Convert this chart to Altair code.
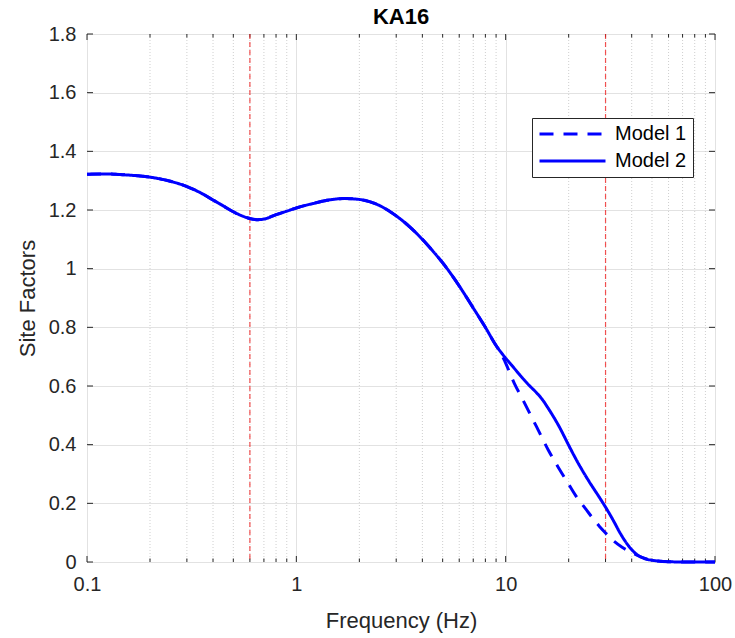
import altair as alt
import pandas as pd

# ---------------- data ----------------
models = ["Model 1", "Model 2"]

# part of the curves shared by both models (below ~9 Hz)
freq_common = [0.1, 0.12, 0.15, 0.2, 0.25, 0.3, 0.35, 0.4, 0.45, 0.5, 0.55, 0.6,
               0.65, 0.7, 0.8, 0.9, 1.0, 1.2, 1.4, 1.7, 2.0, 2.5, 3.0, 3.5, 4.0,
               4.5, 5.0, 6.0, 7.0, 8.0, 9.0]
sf_common = [1.322, 1.323, 1.320, 1.312, 1.298, 1.280, 1.258, 1.234, 1.213, 1.194,
             1.180, 1.171, 1.167, 1.169, 1.184, 1.196, 1.207, 1.222, 1.233, 1.239,
             1.236, 1.215, 1.180, 1.141, 1.100, 1.059, 1.020, 0.941, 0.866, 0.800,
             0.738]

freq_m1_tail = [9.5, 10, 11, 12, 14, 16, 18, 20, 22, 24, 26, 28, 30, 33, 36, 40, 45,
                50, 60, 70, 80, 100]
sf_m1_tail = [0.712, 0.678, 0.609, 0.557, 0.463, 0.381, 0.318, 0.265, 0.218, 0.183,
              0.150, 0.122, 0.099, 0.070, 0.050, 0.032, 0.015, 0.006, 0.001, 0.0,
              0.0, 0.0]

freq_m2_tail = [9.5, 10, 11, 12, 13, 14, 15, 16, 18, 20, 22, 25, 28, 30, 33, 35, 38,
                40, 43, 45, 48, 50, 60, 70, 80, 100]
sf_m2_tail = [0.715, 0.695, 0.660, 0.628, 0.601, 0.578, 0.553, 0.523, 0.462, 0.398,
              0.342, 0.275, 0.221, 0.187, 0.136, 0.102, 0.062, 0.042, 0.022, 0.015,
              0.008, 0.006, 0.001, 0.0, 0.0, 0.0]

ref_freqs = [0.6, 30]                       # red dashed reference lines
x_tick_values = [0.1, 1, 10, 100]
x_minor_values = [0.2, 0.3, 0.4, 0.5, 0.6, 0.7, 0.8, 0.9,
                  2, 3, 4, 5, 6, 7, 8, 9,
                  20, 30, 40, 50, 60, 70, 80, 90]
y_tick_values = [0, 0.2, 0.4, 0.6, 0.8, 1.0, 1.2, 1.4, 1.6, 1.8]

# ---------------- tables ----------------
rows = []
for f, v in zip(freq_common + freq_m1_tail, sf_common + sf_m1_tail):
    rows.append({"freq": f, "sf": v, "model": models[0]})
for f, v in zip(freq_common + freq_m2_tail, sf_common + sf_m2_tail):
    rows.append({"freq": f, "sf": v, "model": models[1]})
lines_df = pd.DataFrame(rows)
minor_df = pd.DataFrame({"freq": x_minor_values})
major_df = pd.DataFrame({"freq": x_tick_values})
ref_df = pd.DataFrame({"freq": ref_freqs})
ytick_df = pd.DataFrame({"sf": y_tick_values})

W, H = 628, 528
AX = "#262626"
FONT = "Liberation Sans"

xscale = alt.Scale(type="log", domain=[0.1, 100], nice=False)
yscale = alt.Scale(domain=[0, 1.8], nice=False, zero=False)

legend = alt.Legend(
    title=None, orient="none", legendX=445, legendY=84,
    strokeColor=AX, fillColor="white", padding=6,
    symbolType="stroke", symbolSize=4356, symbolStrokeWidth=3,
    labelFontSize=20, labelFont=FONT, labelColor="#000000", labelOffset=8,
    clipHeight=20, rowPadding=7,
)

lines = alt.Chart(lines_df).mark_line(strokeWidth=3, interpolate="monotone").encode(
    x=alt.X("freq:Q", scale=xscale, title="Frequency (Hz)",
            axis=alt.Axis(values=x_tick_values, format=".1~f", grid=True,
                          gridColor="#e2e2e2", ticks=False, domain=False,
                          labelFlush=False,
                          labelPadding=12, labelFontSize=20, labelColor=AX,
                          titleFontSize=22, titleFontWeight="normal", titleColor=AX,
                          titleBaseline="middle", titleY=58)),
    y=alt.Y("sf:Q", scale=yscale, title="Site Factors",
            axis=alt.Axis(values=y_tick_values, format="~g", grid=True,
                          gridColor="#e2e2e2", ticks=False, domain=False,
                          labelFlush=False,
                          labelPadding=11, labelFontSize=20, labelColor=AX,
                          titleFontSize=22, titleFontWeight="normal", titleColor=AX,
                          titleBaseline="middle", titleX=-60, titleY=H / 2)),
    color=alt.Color("model:N", scale=alt.Scale(domain=models, range=["#0000ff", "#0000ff"]),
                    legend=legend),
    strokeDash=alt.StrokeDash("model:N", scale=alt.Scale(domain=models, range=[[14, 10], [1, 0]]),
                              legend=legend),
)

minor_grid = alt.Chart(minor_df).mark_rule(color="#cfcfcf", strokeWidth=1, strokeDash=[1, 2]).encode(
    x=alt.X("freq:Q", scale=xscale)
)

ref_lines = alt.Chart(ref_df).mark_rule(color="#f02828", strokeWidth=1.2, strokeDash=[5, 3], opacity=0.8).encode(
    x=alt.X("freq:Q", scale=xscale)
)

tick_style = dict(color=AX, strokeWidth=1)
minor_bottom = alt.Chart(minor_df).mark_rule(**tick_style).encode(
    x=alt.X("freq:Q", scale=xscale), y=alt.value(H), y2=alt.value(H - 3.5))
minor_top = alt.Chart(minor_df).mark_rule(**tick_style).encode(
    x=alt.X("freq:Q", scale=xscale), y=alt.value(0), y2=alt.value(3.5))
major_bottom = alt.Chart(major_df).mark_rule(**tick_style).encode(
    x=alt.X("freq:Q", scale=xscale), y=alt.value(H), y2=alt.value(H - 6))
major_top = alt.Chart(major_df).mark_rule(**tick_style).encode(
    x=alt.X("freq:Q", scale=xscale), y=alt.value(0), y2=alt.value(6))
yt_left = alt.Chart(ytick_df).mark_rule(**tick_style).encode(
    y=alt.Y("sf:Q", scale=yscale), x=alt.value(0), x2=alt.value(6))
yt_right = alt.Chart(ytick_df).mark_rule(**tick_style).encode(
    y=alt.Y("sf:Q", scale=yscale), x=alt.value(W), x2=alt.value(W - 6))

chart = alt.layer(
    minor_grid, minor_bottom, minor_top, major_bottom, major_top,
    yt_left, yt_right, ref_lines, lines
).properties(
    width=W, height=H,
    title=alt.TitleParams("KA16", fontSize=22, fontWeight="bold", color="#000000",
                          font=FONT, offset=0, dy=5, anchor="middle"),
    padding={"left": 87, "top": 34, "right": 20, "bottom": 76},
    autosize=alt.AutoSizeParams(type="none"),
).configure(
    font=FONT,
    background="white",
).configure_view(
    stroke=AX, strokeWidth=1,
).configure_axis(
    labelFont=FONT, titleFont=FONT,
)

chart.save("out.html", embed_options={"renderer": "svg", "actions": False})
